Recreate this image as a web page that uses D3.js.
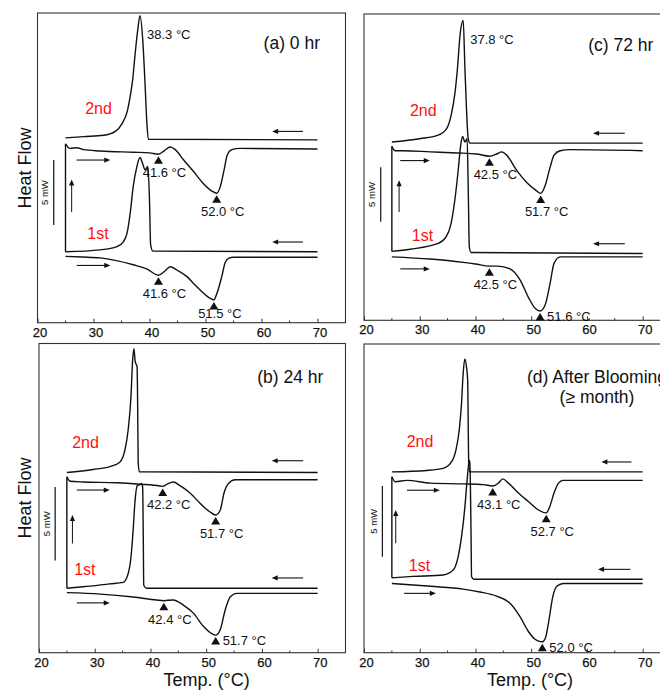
<!DOCTYPE html>
<html>
<head>
<meta charset="utf-8">
<script src="https://cdn.jsdelivr.net/npm/d3@7"></script>
<style>
  body { margin: 0; background: #fff; }
  svg { display: block; font-family: "Liberation Sans", Arial, Helvetica, sans-serif; }
</style>
</head>
<body>
<svg id="chart" width="660" height="693"></svg>
<script>
// DSC traces, each point = [temperature (°C), heat flow (mW, trace offset included)]
// (a) 0 hr
const heat1A = [[25.0,5.1],[28,5.05],[31.2,4.98],[37.1,4.45],[39.5,4.13],[41.6,3.65],[42.7,3.95],[43.7,4.3],[44.9,4.05],[46.7,3.54],[48,2.95],[49.05,2.52],[50.8,1.88],[51.5,1.75],[52.0,2.2],[52.9,3.54],[53.5,4.6],[54.1,4.95],[55.0,5.03],[70,5.03]];
const cool1A = [[25.0,5.45],[31.2,5.6],[34.2,5.85],[35.3,6.2],[36.0,6.9],[36.55,8.4],[37.1,10.5],[37.75,12.0],[38.3,12.7],[38.8,12.2],[39.2,11.75],[39.7,12.0],[40.0,9.4],[40.2,6.0],[40.6,5.5],[70,5.45]];
const heat2A = [[25.0,13.75],[25.8,13.4],[27.0,13.45],[28.2,13.3],[31.2,13.2],[37.1,13.1],[40.0,13.05],[41.6,12.95],[42.6,13.2],[43.7,13.5],[44.6,13.3],[46.1,12.5],[47.9,11.6],[49.6,10.7],[51.2,10.1],[52.0,9.95],[52.6,10.4],[53.3,11.7],[53.9,12.9],[54.7,13.3],[56.2,13.4],[70,13.35]];
const cool2A = [[25.0,14.2],[28.2,14.3],[31.8,14.4],[33.9,14.7],[35.1,15.3],[36.0,16.2],[36.55,17.4],[37.0,18.7],[37.4,20.5],[37.9,22.5],[38.3,23.6],[38.8,21.7],[39.2,18.4],[39.5,15.6],[39.8,14.1],[70,14.05]];
// (b) 24 hr
const heat1B = [[25.0,4.1],[31.0,4.0],[36.9,3.8],[41.1,3.6],[42.4,3.55],[44.1,3.6],[45.9,3.25],[47.7,2.7],[49.5,1.8],[51.0,1.3],[51.7,1.2],[52.5,1.55],[53.4,2.9],[54.3,3.8],[55.5,4.05],[70,4.05]];
const cool1B = [[25.0,4.4],[27.9,4.5],[32.7,4.7],[35.1,4.8],[36.0,5.4],[36.5,6.5],[36.9,8.4],[37.2,10.2],[37.64,11.4],[38.0,11.45],[38.4,11.55],[38.6,11.3],[38.7,8.4],[38.8,4.6],[39.3,4.4],[70,4.4]];
const heat2B = [[25.0,12.0],[25.6,11.7],[27.9,11.65],[33.9,11.6],[38.1,11.5],[41.7,11.38],[42.2,11.35],[43.0,11.5],[44.1,11.65],[45.3,11.4],[47.1,10.9],[48.9,10.2],[50.7,9.6],[51.7,9.4],[52.5,9.7],[53.2,10.9],[54.0,11.55],[55.2,11.8],[70,11.8]];
const cool2B = [[25.0,12.3],[29.7,12.5],[32.7,12.7],[34.5,13.0],[35.4,13.8],[36.0,15.2],[36.5,17.45],[36.8,19.95],[37.04,20.75],[37.25,19.9],[37.6,19.5],[37.7,17.0],[37.8,13.0],[38.0,12.35],[70,12.3]];
// (c) 72 hr
const heat1C = [[25.0,5.8],[31.9,5.6],[37.8,5.3],[40.0,5.15],[42.5,4.95],[44.0,4.95],[46.2,4.7],[48.0,3.7],[49.5,2.1],[50.7,1.1],[51.6,0.85],[52.5,1.4],[53.4,3.4],[54.1,5.2],[55.2,5.8],[70,5.8]];
const cool1C = [[25.0,6.3],[28.3,6.5],[33.2,7.0],[34.7,7.6],[35.6,8.8],[36.3,11.0],[36.9,13.7],[37.4,16.2],[37.7,16.8],[38.1,16.3],[38.5,16.6],[38.7,12.2],[38.9,6.7],[39.2,6.2],[70,6.1]];
const heat2C = [[25.0,15.9],[25.6,15.5],[27.1,15.5],[31.9,15.4],[36.7,15.3],[40.2,15.2],[42.5,15.0],[43.8,15.2],[44.7,15.4],[45.6,15.1],[47.4,13.7],[49.2,12.6],[50.8,11.9],[51.7,11.6],[52.5,12.3],[53.4,14.0],[54.1,15.1],[55.2,15.5],[57.0,15.6],[70,15.5]];
const cool2C = [[25.0,16.3],[30.0,16.6],[33.2,16.9],[34.8,17.5],[35.7,18.9],[36.3,20.7],[36.8,23.2],[37.2,25.9],[37.8,27.4],[38.1,23.2],[38.4,19.2],[38.7,16.6],[39.0,16.2],[70,16.2]];
// (d) after blooming
const heat1D = [[25.0,4.9],[32.0,4.7],[37.8,4.5],[40.8,4.3],[43.8,4.0],[46.2,3.5],[48.0,2.55],[49.5,1.5],[50.7,0.95],[51.3,0.82],[52.0,0.78],[52.6,1.1],[53.1,2.1],[53.9,4.0],[54.6,4.7],[55.8,4.9],[70,4.9]];
const cool1D = [[25.0,5.3],[28.8,5.4],[34.2,5.5],[36.0,5.85],[36.9,6.8],[37.5,8.2],[38.1,10.3],[38.5,12.2],[38.9,13.6],[39.0,13.4],[39.2,8.7],[39.3,5.4],[39.7,5.2],[70,5.2]];
const heat2D = [[25.0,12.45],[25.6,12.1],[27.7,12.2],[31.9,12.0],[37.8,11.95],[41.4,11.9],[43.1,11.8],[44.1,12.0],[44.9,12.3],[45.9,12.0],[48.0,11.2],[49.8,10.6],[51.3,10.1],[52.7,9.9],[53.3,10.3],[54.1,11.3],[54.9,12.0],[55.7,12.2],[70,12.2]];
const cool2D = [[25.0,12.8],[31.25,12.9],[34.2,13.05],[35.7,13.5],[36.5,14.35],[37.1,15.8],[37.5,17.65],[37.8,19.8],[38.1,20.8],[38.4,20.2],[38.6,19.3],[38.8,13.3],[38.95,12.8],[70,12.8]];

// Marked transition temperatures: [trace, °C]
const marksA = [["heat2",41.6],["heat2",52.0],["heat1",41.6],["heat1",51.5]];
const marksB = [["heat2",42.2],["heat2",51.7],["heat1",42.4],["heat1",51.7]];
const marksC = [["heat2",42.5],["heat2",51.7],["heat1",42.5],["heat1",51.6]];
const marksD = [["heat2",43.1],["heat2",52.7],["heat1",52.0]];
// Crystallisation peak temperatures labelled on the 2nd cooling trace
const peaksA = [38.3];
const peaksB = [];
const peaksC = [37.8];
const peaksD = [];

const panelTitles = [["(a) 0 hr"], ["(b) 24 hr"], ["(c) 72 hr"], ["(d) After Blooming", "(\u2265 month)"]];
const xTicks = [20, 30, 40, 50, 60, 70];
const xMinorTicks = [25, 35, 45, 55, 65];
const xDomain = [20, 75];
const yTopMw = [23.8, 21.1, 28.0, 21.85];
const scaleBarMw = 5;

// ---- layout ----
const panels = [
  { box: {x: 37.5, y: 13, w: 308, h: 309.7}, yTop: yTopMw[0], title: panelTitles[0],
    traces: {heat1: heat1A, cool1: cool1A, heat2: heat2A, cool2: cool2A}, marks: marksA, peaks: peaksA,
    labelPlace: ["below", "below", "below", "tight"],
    bar: {t: 22.9, y0: 7.5}, up: {t: 26.1, y0: 8.5, y1: 11.0},
    right: [[27.0, 33.0, 12.5], [27.0, 33.0, 4.4]], left: [[67.4, 61.9, 14.7], [67.4, 61.9, 6.2]],
    titlePos: {x: 282.5, y: 36, anchor: "end"}, second: [61, 100.5], first: [60.5, 225.7] },
  { box: {x: 39, y: 343.5, w: 306.5, h: 309.2}, yTop: yTopMw[1], title: panelTitles[1],
    traces: {heat1: heat1B, cool1: cool1B, heat2: heat2B, cool2: cool2B}, marks: marksB, peaks: peaksB,
    labelPlace: ["below", "below", "below", "right"],
    bar: {t: 22.9, y0: 6.3}, up: {t: 26.0, y0: 7.45, y1: 9.4},
    right: [[26.8, 32.7, 11.1], [26.8, 32.7, 3.4]], left: [[67.4, 61.75, 13.1], [67.4, 61.75, 5.1]],
    titlePos: {x: 284.3, y: 39.2, anchor: "end"}, second: [46.5, 104], first: [45.8, 231.7] },
  { box: {x: 364, y: 14, w: 306.5, h: 306.3}, yTop: yTopMw[2], title: panelTitles[2],
    traces: {heat1: heat1C, cool1: cool1C, heat2: heat2C, cool2: cool2C}, marks: marksC, peaks: peaksC,
    labelPlace: ["below", "below", "below", "right"],
    bar: {t: 23.0, y0: 9.0}, up: {t: 26.3, y0: 9.9, y1: 12.8},
    right: [[26.5, 31.8, 14.6], [26.5, 31.8, 4.7]], left: [[66.8, 61.1, 17.1], [66.8, 61.1, 7.0]],
    titlePos: {x: 289.3, y: 37, anchor: "end"}, second: [59.3, 101.7], first: [58.5, 226.7] },
  { box: {x: 364, y: 344, w: 306.5, h: 308.7}, yTop: yTopMw[3], title: panelTitles[3],
    traces: {heat1: heat1D, cool1: cool1D, heat2: heat2D, cool2: cool2D}, marks: marksD, peaks: peaksD,
    labelPlace: ["below", "below", "right"],
    bar: {t: 23.3, y0: 6.8}, up: {t: 25.7, y0: 7.75, y1: 10.1},
    right: [[27.7, 33.6, 11.5], [27.2, 32.9, 4.2]], left: [[68.0, 62.6, 13.5], [67.8, 62.0, 5.9]],
    titlePos: {x: 233, y: 38.7, anchor: "middle"}, second: [56, 103.4], first: [55.5, 226.7] }
];

const ink = "#111";
const svg = d3.select("#chart");
const fmt = d3.format(".1f");

function valueAt(trace, t) {
  for (let i = 1; i < trace.length; i++) {
    const [t0, v0] = trace[i - 1], [t1, v1] = trace[i];
    if (t >= t0 && t <= t1) return v0 + (v1 - v0) * (t - t0) / (t1 - t0);
  }
  return trace[trace.length - 1][1];
}

function arrowHead(g, x, y, dir) {
  // dir: [dx, dy] unit direction of the arrow
  const L = 6, W = 2.6;
  const [dx, dy] = dir;
  const bx = x - dx * L, by = y - dy * L;
  g.append("path")
    .attr("d", `M${x},${y}L${bx - dy * W},${by + dx * W}L${bx + dy * W},${by - dx * W}Z`)
    .attr("fill", ink);
}

panels.forEach(p => {
  const {box} = p;
  const x = d3.scaleLinear().domain(xDomain).range([box.x, box.x + box.w]);
  const y = d3.scaleLinear().domain([0, p.yTop]).range([box.y + box.h, box.y]);
  const g = svg.append("g");

  // frame
  g.append("rect").attr("x", box.x).attr("y", box.y).attr("width", box.w).attr("height", box.h)
    .attr("fill", "none").attr("stroke", "#333").attr("stroke-width", 1.1);

  // bottom axis with inward ticks
  const axis = g.append("g").attr("transform", `translate(0,${box.y + box.h})`);
  axis.call(d3.axisBottom(x).tickValues(xTicks).tickSizeInner(-4).tickSizeOuter(0).tickPadding(0))
    .call(a => a.select(".domain").remove())
    .call(a => a.selectAll("line").attr("stroke", "#333"))
    .call(a => a.selectAll("text").attr("y", 14).attr("dy", null).attr("dx", 2)
      .attr("font-size", 13).attr("fill", ink).attr("font-family", null)
      .attr("stroke", ink).attr("stroke-width", 0.25));
  axis.selectAll(".minor").data(xMinorTicks).join("line").attr("class", "minor")
    .attr("x1", d => x(d)).attr("x2", d => x(d)).attr("y1", 0).attr("y2", -2.2).attr("stroke", "#333");

  const line = d3.line().x(d => x(d[0])).y(d => y(d[1])).curve(d3.curveMonotoneX);
  const tr = p.traces;
  ["heat1", "cool1", "heat2", "cool2"].forEach(k => {
    g.append("path").attr("d", line(tr[k])).attr("fill", "none").attr("stroke", ink)
      .attr("stroke-width", 1.4).attr("stroke-linejoin", "round");
  });
  // connector: end of 1st cooling to start of 2nd heating at the lowest temperature
  g.append("line").attr("x1", x(tr.cool1[0][0])).attr("x2", x(tr.heat2[0][0]))
    .attr("y1", y(tr.cool1[0][1])).attr("y2", y(tr.heat2[0][1])).attr("stroke", ink).attr("stroke-width", 1.4);

  // transition markers
  p.marks.forEach(([key, t], i) => {
    const cx = x(t), tip = y(valueAt(tr[key], t)) + 2;
    g.append("path").attr("d", `M${cx},${tip}L${cx - 4.5},${tip + 7.5}L${cx + 4.5},${tip + 7.5}Z`).attr("fill", ink);
    const place = p.labelPlace[i];
    const txt = g.append("text").attr("font-size", 13).attr("fill", ink).text(`${fmt(t)} \u00B0C`);
    if (place === "right") txt.attr("x", cx + 7).attr("y", tip + 8).attr("text-anchor", "start");
    else txt.attr("x", cx + 6).attr("y", tip + (place === "tight" ? 16 : 21)).attr("text-anchor", "middle");
  });

  // crystallisation peak label
  p.peaks.forEach(t => {
    g.append("text").attr("x", x(t) + 7).attr("y", y(valueAt(tr.cool2, t)) + 23)
      .attr("font-size", 13).attr("fill", ink).text(`${fmt(t)} \u00B0C`);
  });

  // 5 mW scale bar
  g.append("line").attr("x1", x(p.bar.t)).attr("x2", x(p.bar.t))
    .attr("y1", y(p.bar.y0)).attr("y2", y(p.bar.y0 + scaleBarMw)).attr("stroke", ink).attr("stroke-width", 1.2);
  const barMid = (y(p.bar.y0) + y(p.bar.y0 + scaleBarMw)) / 2;
  g.append("text").attr("transform", `translate(${x(p.bar.t) - 5.5},${barMid}) rotate(-90)`)
    .attr("text-anchor", "middle").attr("font-size", 9.5).attr("fill", ink).text(`${scaleBarMw} mW`);

  // direction arrows
  const ux = x(p.up.t);
  g.append("line").attr("x1", ux).attr("x2", ux).attr("y1", y(p.up.y0)).attr("y2", y(p.up.y1) + 4)
    .attr("stroke", ink).attr("stroke-width", 1);
  arrowHead(g, ux, y(p.up.y1), [0, -1]);
  p.right.concat(p.left).forEach(([t0, t1, v]) => {
    const x0 = x(t0), x1 = x(t1), yy = y(v), s = Math.sign(x1 - x0);
    g.append("line").attr("x1", x0).attr("x2", x1 - s * 4).attr("y1", yy).attr("y2", yy)
      .attr("stroke", ink).attr("stroke-width", 1.1);
    arrowHead(g, x1, yy, [s, 0]);
  });

  // run labels
  g.append("text").attr("x", box.x + p.second[0]).attr("y", box.y + p.second[1]).attr("text-anchor", "middle")
    .attr("font-size", 16).attr("fill", "#ff1010").text("2nd");
  g.append("text").attr("x", box.x + p.first[0]).attr("y", box.y + p.first[1]).attr("text-anchor", "middle")
    .attr("font-size", 16).attr("fill", "#ff1010").text("1st");

  // panel title
  p.title.forEach((s, i) => {
    g.append("text").attr("x", box.x + p.titlePos.x).attr("y", box.y + p.titlePos.y + i * 20)
      .attr("text-anchor", p.titlePos.anchor).attr("font-size", 17.5).attr("fill", ink).text(s);
  });
});

// axis titles
[[25, 168], [25, 498]].forEach(([cx, cy]) => {
  svg.append("text").attr("transform", `translate(${cx},${cy}) rotate(-90)`).attr("dy", "0.35em")
    .attr("text-anchor", "middle").attr("font-size", 18).attr("fill", ink).text("Heat Flow");
});
[[206.7, 680], [530, 680]].forEach(([cx, cy]) => {
  svg.append("text").attr("x", cx).attr("y", cy).attr("dy", "0.35em")
    .attr("text-anchor", "middle").attr("font-size", 18).attr("fill", ink).text("Temp. (\u00B0C)");
});
</script>
</body>
</html>
